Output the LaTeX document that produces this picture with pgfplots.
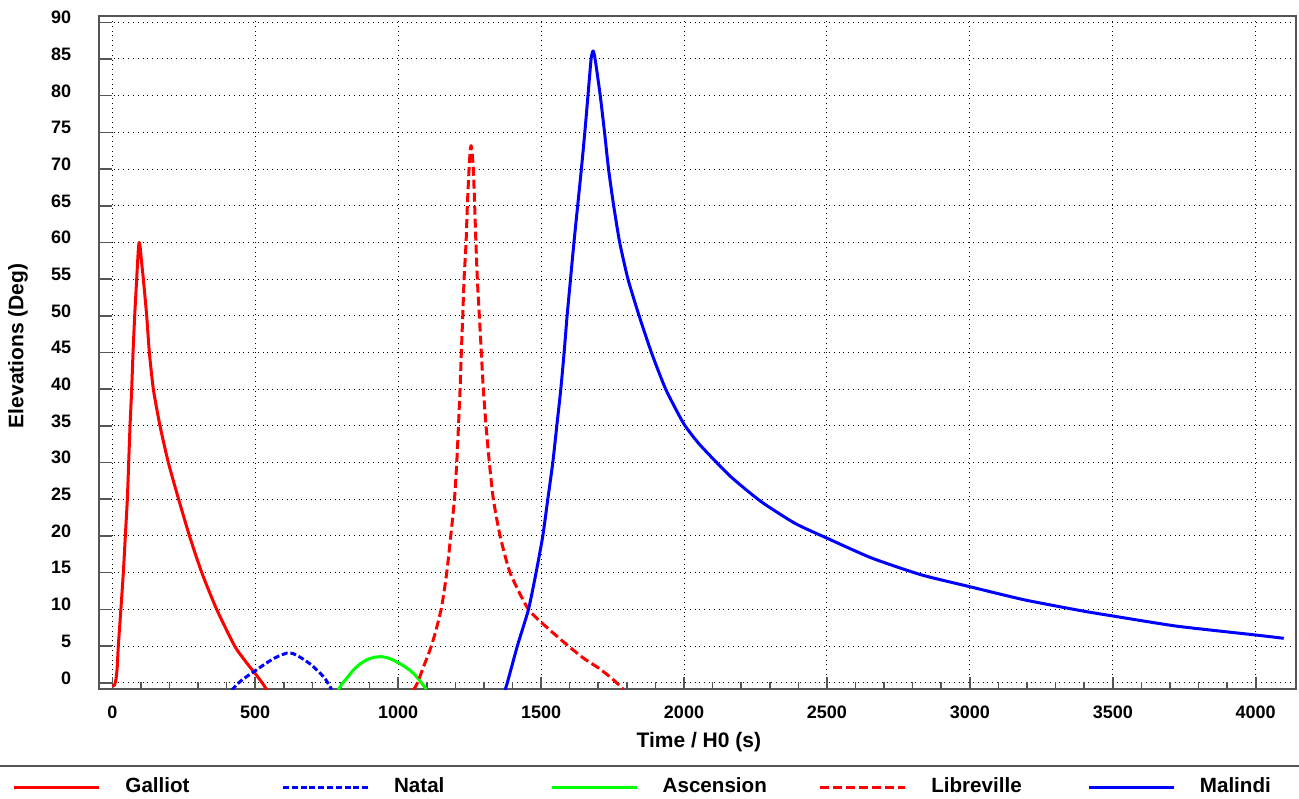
\documentclass[border=0pt]{standalone}
\usepackage{fontspec}
\setmainfont{Liberation Sans}
\usepackage{pgfplots}
\pgfplotsset{compat=1.18}
\definecolor{framegray}{HTML}{555555}

\begin{document}
\begin{tikzpicture}
\useasboundingbox (-49.65pt,-54.35pt) rectangle (599.85pt,344.65pt);
\begin{axis}[
    at={(0pt,0pt)}, anchor=south west,
    scale only axis, width=598.35pt, height=336.8pt,
    xmin=-45.5, xmax=4141, ymin=-0.9, ymax=90.9,
    xtick={0,500,...,4000}, ytick={0,5,...,90},
    minor x tick num=4,
    tick pos=left, tick align=inside,
    major tick length=6.3pt, minor tick length=3.5pt,
    every tick/.style={framegray, line width=0.8pt},
    axis line style={framegray, line width=1pt},
    grid=major,
    major grid style={black, line width=0.5pt, dash pattern=on 0.5pt off 1.9pt},
    /pgf/number format/assume math mode=true,
    /pgf/number format/1000 sep={},
    xticklabel style={font=\bfseries\fontsize{9}{9}\selectfont, yshift=-4.6pt},
    yticklabel style={font=\bfseries\fontsize{9}{9}\selectfont, xshift=-10.5pt, yshift=2.4pt},
    xlabel={Time / H0 (s)}, ylabel={Elevations (Deg)},
    label style={font=\bfseries\fontsize{10.5}{12}\selectfont},
    xlabel style={at={(axis description cs:0.501,-0.0782)}, anchor=center},
    ylabel style={at={(axis description cs:-0.0679,0.51)}, anchor=center},
    legend columns=5,
    legend style={at={(-0.0722,-0.14504)}, anchor=west, draw=none, fill=none,
        inner sep=0pt, outer sep=0pt,
        font=\bfseries\fontsize{10.3}{12}\selectfont,
        nodes={inner sep=0pt, anchor=west},
        /tikz/every odd column/.style={column sep=12.3pt},
        /tikz/every even column/.style={column sep=0pt}},
    legend image code/.code={\draw[#1] (0pt,0pt) -- (42.5pt,0pt);},
    every axis plot/.append style={line width=1.5pt, line join=round},
]
\addplot[red, smooth, tension=0.35] coordinates {
    (0,-0.5) (8,-0.3) (13,0.5) (17,2) (21,5) (30,10) (38.6,15) (45.6,20) (52.6,25)
    (57.3,30) (62,35) (67.8,40) (72.5,45) (78.3,50) (85.3,55) (91,59) (94,60)
    (97,59.5) (102,57.5) (108.6,55) (120.3,50) (129.6,45) (143.6,40) (166.9,35)
    (196,30) (232,25) (270,20) (313,15) (365,10) (428,5) (470,2.7)
    (499,1.3) (522,0.1) (545,-1.2)
};
\addlegendentry{\makebox[78pt][l]{Galliot}}
\addplot[blue, smooth, tension=0.5, dash pattern=on 3pt off 1.4pt] coordinates {
    (418,-1) (440,-0.1) (458,0.5) (499,1.6) (540,2.7) (575,3.5) (612,4.05)
    (630,4.0) (656,3.5) (680,2.9) (703,2.2) (738,0.85) (752,0.1) (767,-0.9)
};
\addlegendentry{\makebox[78pt][l]{Natal}}
\addplot[green, smooth, tension=0.5] coordinates {
    (790,-1) (805,-0.1) (820,0.6) (843,1.7) (865,2.5) (889,3.1) (915,3.45)
    (942,3.55) (970,3.3) (1006,2.6) (1030,2.0) (1053,1.3) (1075,0.3)
    (1099,-0.9)
};
\addlegendentry{\makebox[78pt][l]{Ascension}}
\addplot[red, smooth, tension=0.35, dash pattern=on 4.5pt off 2pt] coordinates {
    (1053,-1) (1068,0) (1090,2.3) (1110,4.3) (1130,6.8) (1152,10.3) (1170,15) (1184,20)
    (1197,25) (1205,30) (1211,35) (1216.6,40) (1221,45) (1226,50) (1230.6,55)
    (1237.6,60) (1242,65) (1248,70) (1252,72.5) (1255,73.2) (1258,72.5) (1263,70)
    (1267.7,65) (1272,60) (1277,55) (1284,50) (1291,45) (1298,40) (1307.5,35)
    (1319,30) (1333,25) (1356.6,20) (1391.5,15) (1455.6,10) (1530,7.2)
    (1595.6,5) (1650,3.3) (1705,1.9) (1750,0.5) (1788,-0.9)
};
\addlegendentry{\makebox[78pt][l]{Libreville}}
\addplot[blue, smooth, tension=0.35] coordinates {
    (1373.6,-1) (1382,0) (1417,5) (1456,10) (1482.5,15) (1506,20) (1523.5,25)
    (1541,30) (1555,35) (1569,40) (1580.6,45) (1591,50) (1603,55) (1615,60)
    (1628,65) (1641,70) (1653,75) (1664,80) (1675,85) (1682,86.1) (1689,85)
    (1707,80) (1722,75) (1736,70) (1754,65) (1775,60) (1804,55) (1843,50)
    (1886,45) (1936,40) (1999,35.3) (2056,32.4) (2163,28.1) (2269,24.7)
    (2389,21.7) (2500,19.7) (2656,17) (2830,14.7) (2998,13.1) (3190,11.3)
    (3391,9.8) (3499,9.1) (3725,7.7) (4000,6.5) (4098,6.05)
};
\addlegendentry{\makebox[78pt][l]{Malindi}}
\end{axis}
\draw[framegray, line width=1pt] (-49.65pt,-38.2pt) -- (599.85pt,-38.2pt);
\end{tikzpicture}
\end{document}
